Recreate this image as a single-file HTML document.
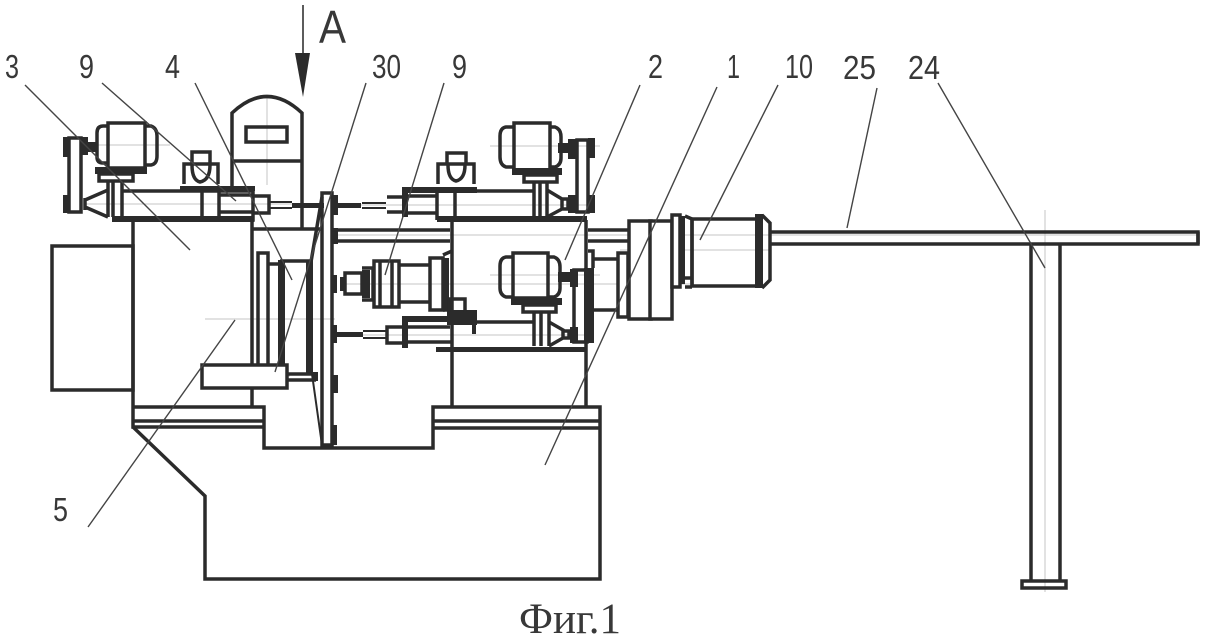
<!DOCTYPE html>
<html><head><meta charset="utf-8"><style>
html,body{margin:0;padding:0;background:#fff;width:1206px;height:640px;overflow:hidden}
svg{display:block}
.o{fill:none;stroke:#2b2b2b;stroke-width:3.5}
.t{fill:none;stroke:#2b2b2b;stroke-width:2}
.w{fill:#fff;stroke:#2b2b2b;stroke-width:3.5}
.d{fill:#2b2b2b;stroke:none}
.c{stroke:#c4c4c4;stroke-width:1;fill:none}
.l{stroke:#444;stroke-width:1.4;fill:none}
text{font-family:"Liberation Sans",sans-serif;font-size:33px;fill:#383838}
</style></head><body>
<svg width="1206" height="640" viewBox="0 0 1206 640" xmlns="http://www.w3.org/2000/svg">
<!-- center lines -->
<g class="c">
<line x1="90" y1="145" x2="170" y2="145"/><line x1="267" y1="97" x2="267" y2="185"/>
<line x1="85" y1="204" x2="300" y2="204"/><line x1="360" y1="205" x2="590" y2="205"/>
<line x1="490" y1="146" x2="600" y2="146"/><line x1="335" y1="235" x2="1199" y2="235"/>
<line x1="345" y1="284" x2="620" y2="284"/><line x1="490" y1="275" x2="600" y2="275"/>
<line x1="205" y1="319" x2="335" y2="319"/><line x1="360" y1="335" x2="590" y2="335"/>
<line x1="205" y1="376" x2="290" y2="376"/><line x1="1045" y1="210" x2="1045" y2="592"/>
<line x1="620" y1="250" x2="770" y2="250"/><line x1="590" y1="284" x2="690" y2="284"/>
</g>
<!-- base -->
<path class="o" d="M133 407H264V448H433V407H600V579H205V496L133 427"/>
<path class="o" d="M133 407V427H264M133 421H264M433 421H600M433 428H600"/>
<rect class="o" x="52" y="246" width="81" height="144"/>
<path class="o" d="M133 220V407M252 220V407M452 220V407M586 220V407"/>
<!-- tower -->
<path class="o" d="M232 187V113Q267 80 302 113V229M232 161H302M253 229H322"/>
<rect class="o" x="246" y="127" width="41" height="15"/>
<!-- left top assembly -->
<path class="o" d="M108 123H145V168H108ZM108 126H103Q97 126 97 133V157Q97 163 103 163H108M145 126H151Q157 128 157 136V156Q157 164 151 165H145"/>
<rect class="d" x="95" y="167" width="52" height="7"/>
<rect class="o" x="99" y="174" width="34" height="7"/>
<path class="o" d="M108 181V217M113 181V217M122 181V217"/>
<rect class="o" x="69" y="138" width="12" height="74"/>
<rect class="d" x="63" y="137" width="7" height="20"/><rect class="d" x="63" y="195" width="7" height="18"/>
<rect class="d" x="80" y="137" width="8" height="18"/><rect class="d" x="84" y="142" width="12" height="10"/>
<path class="o" d="M85 200L108 190M85 207L108 217M85 198V210"/>
<path class="o" d="M122 191H253V220H122"/><rect class="d" x="112" y="216" width="142" height="6"/>
<rect class="d" x="180" y="186" width="75" height="5"/>
<path class="o" d="M202 191V217M219 191V217M219 195H253M219 212H253"/>
<path class="o" d="M184 184V164H218V184M192 164V152H210V164M192 165Q192 180 200 182Q210 180 210 165"/>
<path class="o" d="M253 196H269V213H253"/>
<path class="t" d="M269 202H292M269 208H292"/>
<rect class="d" x="292" y="203" width="32" height="5"/>
<!-- plate -->
<rect class="o" x="322" y="193" width="10" height="252"/>
<path class="o" d="M311 262L322 197"/><path class="t" d="M312 374L322 445"/>
<g class="d"><rect x="331" y="195" width="7" height="20"/><rect x="331" y="228" width="7" height="16"/><rect x="331" y="275" width="6" height="18"/><rect x="331" y="325" width="6" height="18"/><rect x="331" y="375" width="7" height="18"/><rect x="331" y="425" width="6" height="20"/></g>
<path class="o" d="M332 230H450M332 241H450M588 230H630M588 241H630"/>
<!-- chuck left -->
<path class="o" d="M258 365V253H268V365M268 264H280M280 261H310"/>
<rect class="d" x="278" y="260" width="7" height="105"/>
<rect class="d" x="306" y="260" width="7" height="115"/>
<rect class="w" x="202" y="365" width="85" height="23"/>
<path class="o" d="M287 374H316M287 380H316"/>
<rect class="d" x="312" y="372" width="6" height="9"/>
<!-- top right assembly -->
<rect class="d" x="402" y="187" width="75" height="6"/>
<path class="o" d="M437 193V220M455 193V220M404 196H437M404 213H437M387 197H404V212H387"/>
<rect class="d" x="402" y="187" width="6" height="30"/>
<path class="t" d="M362 203H386M362 208H386"/><rect class="d" x="333" y="203" width="28" height="5"/>
<path class="o" d="M438 184V164H474V184M447 164V153H466V164M448 165Q448 179 456 181Q465 179 465 165"/>
<path class="o" d="M455 191H533"/>
<rect class="d" x="437" y="216" width="150" height="6"/>
<path class="o" d="M514 123H550V170H514ZM514 127H506Q500 128 500 136V157Q500 165 506 167H514M550 127H555Q561 129 561 137V158Q561 165 555 167H550"/>
<rect class="d" x="512" y="168" width="50" height="7"/>
<rect class="o" x="524" y="175" width="33" height="7"/>
<path class="o" d="M534 182V217M547 182V217M540 182V217"/>
<path class="o" d="M547 190L562 199V209L547 217M562 199H568V209H562"/>
<rect class="o" x="577" y="140" width="11" height="72"/>
<rect class="d" x="568" y="139" width="10" height="20"/><rect class="d" x="568" y="195" width="8" height="18"/>
<rect class="d" x="588" y="138" width="7" height="20"/><rect class="d" x="588" y="195" width="7" height="18"/>
<rect class="d" x="558" y="143" width="10" height="10"/>
<!-- spindle -->
<rect class="o" x="345" y="273" width="17" height="21"/>
<rect class="d" x="340" y="277" width="5" height="14"/>
<path class="o" d="M362 268H373V300H362"/><rect class="d" x="362" y="270" width="8" height="28"/>
<rect class="o" x="374" y="261" width="25" height="46"/>
<path class="o" d="M380 261V307M392 261V307M399 265H430M399 302H430"/>
<rect class="o" x="430" y="258" width="13" height="52"/>
<path class="o" d="M443 255L452 251M443 310H452"/>
<rect class="d" x="443" y="258" width="6" height="52"/>
<!-- lower cylinder -->
<rect class="d" x="402" y="316" width="75" height="6"/>
<rect class="d" x="447" y="310" width="30" height="15"/>
<rect class="d" x="472" y="320" width="4" height="14"/>
<path class="o" d="M449 312V299H465V312"/>
<path class="o" d="M407 327H450M407 342H452"/>
<rect class="o" x="387" y="327" width="19" height="16"/>
<rect class="d" x="402" y="316" width="6" height="32"/>
<path class="t" d="M363 331H387M363 338H387"/><rect class="d" x="335" y="332" width="28" height="5"/>
<rect class="d" x="436" y="347" width="151" height="5"/>
<path class="o" d="M477 322H533"/>
<!-- bottom right motor -->
<path class="o" d="M513 253H548V298H513ZM513 257H506Q500 258 500 266V288Q500 295 506 297H513M548 257H554Q560 259 560 267V288Q560 295 554 297H548"/>
<rect class="d" x="511" y="298" width="51" height="7"/>
<rect class="o" x="523" y="305" width="33" height="7"/>
<path class="o" d="M534 312V346M549 312V346M541 312V346"/>
<path class="o" d="M549 322L563 330V338L549 346M563 331H569V338H563"/>
<rect class="o" x="574" y="270" width="13" height="72"/>
<rect class="d" x="570" y="269" width="8" height="18"/><rect class="d" x="570" y="327" width="8" height="16"/>
<rect class="d" x="584" y="268" width="10" height="75"/>
<rect class="d" x="558" y="272" width="12" height="10"/>
<path class="o" d="M588 251H593V268"/>
<path class="o" d="M593 259H618M593 310H618"/>
<rect class="w" x="618" y="253" width="10" height="64"/>
<rect class="w" x="629" y="221" width="22" height="98"/>
<rect class="w" x="650" y="221" width="22" height="98"/>
<rect class="w" x="672" y="215" width="8" height="72"/>
<rect class="d" x="680" y="216" width="5" height="68"/>
<path class="o" d="M685 216L692 219M685 287H692M685 278H692M692 219V287"/>
<rect class="o" x="692" y="219" width="65" height="67"/>
<rect class="d" x="755" y="214" width="8" height="74"/>
<path class="o" d="M762 215L770 223V280L762 288"/>
<!-- pipe -->
<path class="o" d="M770 232H1198V244H770"/>
<path class="o" d="M1198 232V244"/>
<!-- stand -->
<path class="o" d="M1031 244V581M1060 244V581"/>
<rect class="o" x="1022" y="581" width="44" height="7"/>
<!-- leaders -->
<g class="l">
<line x1="25" y1="85" x2="190" y2="250"/><line x1="102" y1="83" x2="236" y2="201"/>
<line x1="195" y1="83" x2="292" y2="280"/><line x1="366" y1="83" x2="275" y2="372"/>
<line x1="444" y1="83" x2="385" y2="275"/><line x1="640" y1="85" x2="565" y2="260"/>
<line x1="717" y1="87" x2="545" y2="465"/><line x1="778" y1="85" x2="700" y2="240"/>
<line x1="877" y1="88" x2="847" y2="228"/><line x1="938" y1="83" x2="1045" y2="268"/>
<line x1="88" y1="527" x2="235" y2="320"/>
</g>
<!-- arrow -->
<line x1="303" y1="5" x2="303" y2="55" stroke="#333" stroke-width="1.6"/>
<polygon class="d" points="295,53 310,53 303,97"/>
<!-- labels -->
<text x="5" y="78" textLength="14" lengthAdjust="spacingAndGlyphs">3</text>
<text x="79" y="78" textLength="15" lengthAdjust="spacingAndGlyphs">9</text>
<text x="165" y="78" textLength="15" lengthAdjust="spacingAndGlyphs">4</text>
<text x="372" y="78" textLength="29" lengthAdjust="spacingAndGlyphs">30</text>
<text x="452" y="78" textLength="15" lengthAdjust="spacingAndGlyphs">9</text>
<text x="648" y="78" textLength="15" lengthAdjust="spacingAndGlyphs">2</text>
<text x="727" y="78" textLength="13" lengthAdjust="spacingAndGlyphs">1</text>
<text x="785" y="78" textLength="28" lengthAdjust="spacingAndGlyphs">10</text>
<text x="843" y="79" textLength="33" lengthAdjust="spacingAndGlyphs">25</text>
<text x="908" y="79" textLength="32" lengthAdjust="spacingAndGlyphs">24</text>
<text x="53" y="521" textLength="15" lengthAdjust="spacingAndGlyphs">5</text>
<text x="319" y="43" textLength="27" lengthAdjust="spacingAndGlyphs" style="font-size:46px">A</text>
<text x="519" y="633" style="font-family:'Liberation Serif',serif;font-size:43px">Фиг.1</text>
</svg>
</body></html>
